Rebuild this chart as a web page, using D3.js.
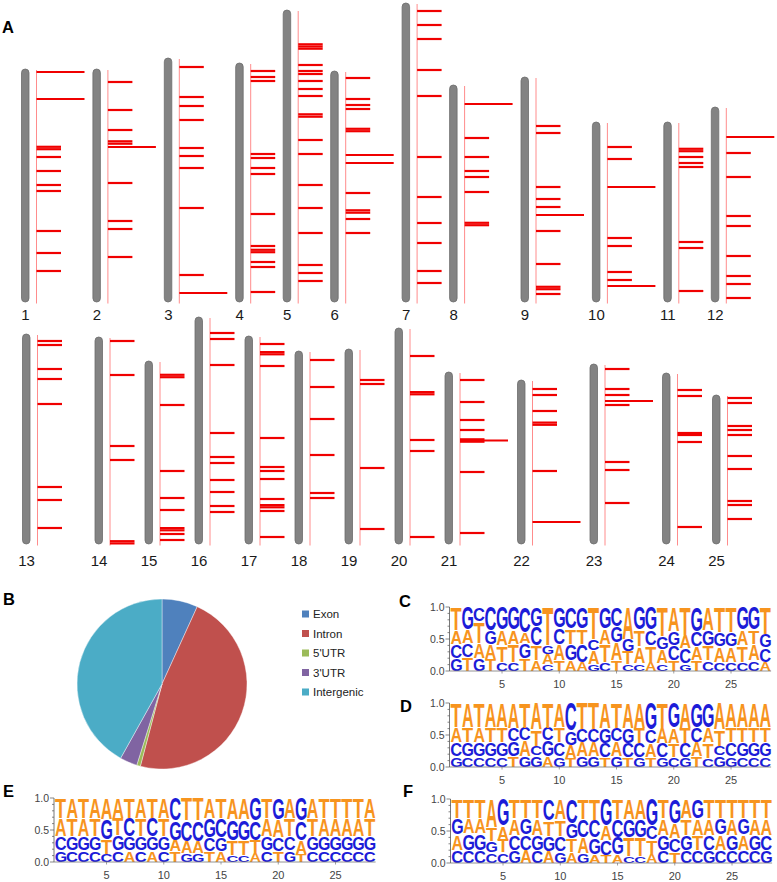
<!DOCTYPE html>
<html><head><meta charset="utf-8">
<script src="https://cdn.jsdelivr.net/npm/d3@7/dist/d3.min.js"></script>
<style>body{margin:0;background:#fff}svg{display:block}</style>
</head><body>
<svg id="fig" width="777" height="882"></svg>
<script>
// ---------------- DATA ----------------
// Panel A: chromosome lengths and marker positions (scaled units, from chromosome top)
const chrNamesRow1 = ["1","2","3","4","5","6","7","8","9","10","11","12"];
const chrLengthsRow1 = [233,233,244,239,292,231,299,217,225,180,180,195];
const chrMarkersRow1 = [
  [77.8,80.2,88,102,116,122,162,184,202],
  [13,41,61,72.3,74.7,114,152,160,188],
  [9,39,48,62,90,98,110,150,217],
  [8,14,18,91,95,105,111,151,183,186.8,189.2,199,204,229],
  [34.3,36.5,38.7,55,61,64,71,79,86,104.3,106.7,130,144,175,198,223,255,263,271],
  [7,28,34,38,57.8,60.2,122,139.3,141.7,148,162],
  [8,22,36,67,93,154,194,220,240,268,280],
  [53,72,86,92,107,137.8,140.2],
  [49,56,110,122,130,154,187,209.8,212.2,217],
  [25,37,116,124,150,158],
  [26.8,29.2,35,41,45,120,126,169],
  [46,70,109,119,149,169,177,191]
];
const chrLongMarkersRow1 = [[3,30],[78],[235],[],[],[84,92],[],[19],[138],[65,164],[],[30]];

const chrNamesRow2 = ["13","14","15","16","17","18","19","20","21","22","23","24","25"];
const chrLengthsRow2 = [210,207,183,227,208,193,195,216,172,164,180,171,149];
const chrMarkersRow2 = [
  [7,11,35,45,70,153,166,194],
  [4,38,109,123,204.2,206.4],
  [13.8,16.2,44,110,137,149,167.1,169.3,173,179],
  [16,22,48,116,140,146,163,175,189,195],
  [8,16.1,18.3,30,102,131,135,143,163,169.1,171.3,175,201],
  [9,36,68,104,142,147],
  [31,35,119,180],
  [28,64.1,66.3,112,123,209],
  [8,30,48,58,67.3,69.7,100,161],
  [9,15,31,42.6,44.8,91],
  [5,25,31,41,98,106,139],
  [17,23,60,62,69,154],
  [3,8,31,35,40,61,74,106,110,124]
];
const chrLongMarkersRow2 = [[],[],[],[],[],[],[],[],[68.5],[142],[37],[],[]];

// Panel B: genomic region distribution (%)
const regionNames = ["Exon","Intron","5'UTR","3'UTR","Intergenic"];
const regionPercents = [6.8,47.3,0.7,3.3,41.9];
const regionColors = ["#4f81bd","#c0504d","#9bbb59","#8064a2","#4bacc6"];

// Panels C-F: sequence logos (rows from top letter to bottom letter) and probabilities
const logoCLetters = ["TGCCGGCGTGCGTGCAGGTATGATTGGT","AATGAAACGCTTCAGGTCGGACGGGATG","CCAATTGTAAGCATATATACCATAATAC","GTGTCCTACTAAGCTCCACTGTCCCCCA"];
const logoCHeights = [
  [.36,.35,.22,.37,.36,.36,.40,.30,.60,.32,.34,.34,.50,.34,.30,.50,.36,.36,.46,.38,.44,.38,.36,.40,.40,.36,.36,.42],
  [.22,.22,.34,.21,.24,.22,.17,.30,.14,.26,.24,.24,.18,.24,.26,.20,.26,.24,.20,.22,.20,.24,.24,.22,.22,.24,.22,.22],
  [.22,.22,.24,.24,.26,.28,.24,.24,.16,.26,.26,.28,.22,.28,.28,.20,.26,.26,.22,.24,.24,.22,.24,.24,.24,.26,.26,.22],
  [.20,.21,.20,.18,.14,.14,.19,.16,.10,.16,.16,.14,.10,.14,.16,.10,.12,.14,.12,.16,.12,.16,.16,.14,.14,.14,.16,.14]
];
const logoDLetters = ["TATAAATATACTTATAAGTGAGGAAAAA","ATATTCCTCTGCCGCGTCAATCATTTTT","CGGGGGACGCAAACACCACTCATCCGGG","GCCCCTGGAGTGGTGTGTGCGTCGGCCC"];
const logoDHeights = [
  [.38,.38,.38,.38,.38,.38,.38,.38,.38,.38,.44,.40,.40,.38,.38,.38,.38,.42,.38,.40,.38,.38,.38,.38,.38,.38,.38,.38],
  [.24,.24,.24,.24,.24,.20,.20,.24,.20,.24,.22,.20,.20,.22,.20,.22,.24,.22,.24,.24,.24,.22,.24,.24,.24,.24,.24,.24],
  [.22,.22,.22,.22,.22,.22,.24,.14,.24,.22,.20,.22,.22,.22,.22,.22,.22,.22,.22,.22,.22,.22,.24,.14,.22,.22,.22,.22],
  [.16,.16,.16,.16,.16,.16,.16,.16,.16,.16,.14,.16,.16,.14,.16,.14,.14,.16,.14,.16,.14,.16,.14,.16,.16,.16,.16,.16]
];
const logoELetters = ["TATAAATATACTTATAAGTGAGATTTTA","ATATGTCTCTGCCGCGGCAATCTAAAAT","CGGGTGGGGGAAACGTTTGCCAGGGGGG","GCCCCCACACTGGTACCACTGTCCCCCC"];
const logoEHeights = [
  [.32,.32,.32,.32,.32,.32,.32,.32,.32,.32,.36,.32,.32,.32,.32,.32,.32,.36,.32,.34,.32,.36,.32,.32,.32,.32,.32,.32],
  [.28,.28,.28,.28,.30,.28,.30,.28,.30,.28,.30,.30,.30,.30,.30,.30,.30,.30,.28,.28,.28,.30,.28,.28,.28,.28,.28,.28],
  [.22,.22,.22,.22,.22,.24,.22,.22,.22,.22,.18,.18,.18,.22,.22,.22,.22,.20,.22,.22,.22,.22,.22,.22,.22,.22,.22,.22],
  [.18,.18,.18,.18,.12,.18,.18,.18,.18,.18,.16,.12,.12,.16,.16,.10,.10,.14,.18,.16,.18,.12,.18,.18,.18,.18,.18,.18]
];
const logoFLetters = ["TTTAGTTTCACTTGTAAGTGAGTTTTTT","GAATAAGATTGCCACGGCAATAAGAGAA","AGGGTCCGGCTAGCGTTTGCGTCAGAGC","CCCCCGACAGAGATACCACTCCGCCCCG"];
const logoFHeights = [
  [.30,.30,.30,.44,.42,.30,.30,.30,.34,.32,.38,.30,.30,.40,.30,.30,.30,.42,.30,.38,.30,.30,.30,.30,.30,.30,.30,.30],
  [.26,.24,.24,.22,.22,.26,.26,.26,.24,.26,.24,.26,.26,.22,.26,.26,.26,.22,.26,.24,.26,.26,.26,.26,.26,.26,.26,.26],
  [.24,.26,.26,.18,.20,.24,.24,.24,.24,.24,.22,.24,.24,.22,.26,.28,.28,.22,.24,.22,.24,.24,.24,.24,.24,.24,.24,.24],
  [.20,.20,.20,.16,.16,.20,.20,.20,.18,.18,.16,.14,.12,.12,.12,.10,.10,.14,.20,.16,.20,.20,.20,.20,.20,.20,.20,.20]
];
const logoXTicks = [5,10,15,20,25];
const logoYTicks = [0,0.5,1];

// ---------------- DRAW ----------------
const svg = d3.select("#fig");
const FONT = "'Liberation Sans', Arial, sans-serif";

function panelLabel(t, x, y) {
  svg.append("text").attr("x", x).attr("y", y).text(t)
    .attr("font-family", FONT).attr("font-weight", "bold").attr("font-size", 16.5).attr("fill", "#000");
}

// Panel A
function drawChromRow(names, lengths, markers, longs, opt) {
  const g = svg.append("g");
  const y = d3.scaleLinear().domain([0, 300]).range([0, 300]);
  let x = opt.startX;
  names.forEach((n, i) => {
    const h = y(lengths[i]);
    const top = opt.bottom - h;
    g.append("rect").attr("x", x + 0.5).attr("y", top).attr("width", 7.5).attr("height", h)
      .attr("rx", 3.75).attr("fill", "#838383").attr("stroke", "#6c6c6c").attr("stroke-width", 0.8);
    const lx = x + 15.5;
    g.append("line").attr("x1", lx).attr("x2", lx).attr("y1", top + 1).attr("y2", opt.bottom + 1.5)
      .attr("stroke", "#ff8c8c").attr("stroke-width", 1);
    markers[i].forEach(p => {
      g.append("line").attr("x1", lx).attr("x2", lx + 24.5).attr("y1", top + y(p)).attr("y2", top + y(p))
        .attr("stroke", "#f00000").attr("stroke-width", 2.2);
    });
    longs[i].forEach(p => {
      g.append("line").attr("x1", lx).attr("x2", lx + 48).attr("y1", top + y(p)).attr("y2", top + y(p))
        .attr("stroke", "#f00000").attr("stroke-width", 2.2);
    });
    g.append("text").attr("x", x + 4.5).attr("y", opt.labelY).attr("text-anchor", "middle").text(n)
      .attr("font-family", FONT).attr("font-size", 15).attr("fill", "#1a1a1a");
    const wide = longs[i].length > 0 || opt.wideExtra.includes(n);
    x += wide ? opt.wideW : opt.narrowW;
  });
}
drawChromRow(chrNamesRow1, chrLengthsRow1, chrMarkersRow1, chrLongMarkersRow1,
  {startX: 21, bottom: 302, labelY: 320, wideW: 71.4, narrowW: 47.5, wideExtra: []});
drawChromRow(chrNamesRow2, chrLengthsRow2, chrMarkersRow2, chrLongMarkersRow2,
  {startX: 22, bottom: 544, labelY: 566, wideW: 72.5, narrowW: 50, wideExtra: ["13"]});
panelLabel("A", 2, 33);

// Panel B
panelLabel("B", 3, 605);
const pie = d3.pie().sort(null).value(d => d)(regionPercents);
const arc = d3.arc().innerRadius(0).outerRadius(85);
const pg = svg.append("g").attr("transform", "translate(162,684)");
pg.selectAll("path").data(pie).join("path").attr("d", arc)
  .attr("fill", (d, i) => regionColors[i]).attr("stroke", "#fff").attr("stroke-width", 0.4);
const lg = svg.append("g").attr("transform", "translate(302,614)");
regionNames.forEach((n, i) => {
  lg.append("rect").attr("x", 0).attr("y", i * 19.5 - 3.5).attr("width", 7).attr("height", 7).attr("fill", regionColors[i]);
  lg.append("text").attr("x", 11).attr("y", i * 19.5 + 4).text(n)
    .attr("font-family", FONT).attr("font-size", 11.5).attr("fill", "#222");
});

// Logo glyph metrics
const cv = document.createElement("canvas").getContext("2d");
cv.font = "bold 100px 'Liberation Sans'";
const glyph = {};
"ACGT".split("").forEach(L => {
  const m = cv.measureText(L);
  glyph[L] = {l: m.actualBoundingBoxLeft, r: m.actualBoundingBoxRight, a: m.actualBoundingBoxAscent, d: m.actualBoundingBoxDescent};
});
const letterColor = {A: "#f7941e", T: "#f7941e", C: "#1c1cd8", G: "#1c1cd8"};

function drawLogo(letters, heights, opt) {
  const g = svg.append("g");
  const n = letters[0].length;
  const x = d3.scaleLinear().domain([0.5, n + 0.5]).range([opt.x0, opt.x0 + n * 11.45]);
  const y = d3.scaleLinear().domain([0, 1]).range([opt.bottom, opt.bottom - 64]);
  const colW = x(1.5) - x(0.5);
  for (let i = 0; i < n; i++) {
    const hs = heights.map(r => r[i]);
    const s = d3.sum(hs);
    let cum = 0;
    for (let r = letters.length - 1; r >= 0; r--) {
      const L = letters[r][i];
      const p = hs[r] / s;
      const yt = y(cum + p), yb = y(cum);
      cum += p;
      const gm = glyph[L];
      const w = colW * 0.95, h = Math.max(0.5, yb - yt - 0.6);
      const sx = w / (gm.l + gm.r), sy = h / (gm.a + gm.d);
      g.append("text").text(L).attr("x", gm.l).attr("y", gm.a)
        .attr("font-family", "'Liberation Sans'").attr("font-weight", "bold").attr("font-size", 100)
        .attr("fill", letterColor[L])
        .attr("transform", `translate(${x(i + 0.5) + colW * 0.025},${yt + 0.3}) scale(${sx},${sy})`);
    }
  }
  // axes
  const ax = opt.x0 - 1;
  g.append("line").attr("x1", ax).attr("x2", ax).attr("y1", y(1)).attr("y2", y(0)).attr("stroke", "#555").attr("stroke-width", 0.8);
  g.append("line").attr("x1", ax).attr("x2", x(n + 0.5)).attr("y1", y(0)).attr("y2", y(0)).attr("stroke", "#777").attr("stroke-width", 0.8);
  d3.range(0, 1.001, 0.1).forEach(v => {
    const major = logoYTicks.some(t => Math.abs(t - v) < 1e-6);
    g.append("line").attr("x1", ax - (major ? 4 : 2)).attr("x2", ax).attr("y1", y(v)).attr("y2", y(v))
      .attr("stroke", "#555").attr("stroke-width", 0.7);
  });
  logoYTicks.forEach(v => {
    g.append("text").attr("x", ax - 5).attr("y", y(v) + 3.5).attr("text-anchor", "end").text(v.toFixed(1))
      .attr("font-family", FONT).attr("font-size", 10.5).attr("fill", "#444");
  });
  logoXTicks.forEach(v => {
    g.append("line").attr("x1", x(v)).attr("x2", x(v)).attr("y1", y(0)).attr("y2", y(0) + 2.5).attr("stroke", "#777").attr("stroke-width", 0.7);
    g.append("text").attr("x", x(v)).attr("y", y(0) + 17).attr("text-anchor", "middle").text(v)
      .attr("font-family", FONT).attr("font-size", 11).attr("fill", "#444");
  });
}
panelLabel("C", 399, 607);
drawLogo(logoCLetters, logoCHeights, {x0: 450.5, bottom: 671});
panelLabel("D", 400, 712);
drawLogo(logoDLetters, logoDHeights, {x0: 450.5, bottom: 767});
panelLabel("E", 3, 797);
drawLogo(logoELetters, logoEHeights, {x0: 55, bottom: 862});
panelLabel("F", 403, 797);
drawLogo(logoFLetters, logoFHeights, {x0: 451.5, bottom: 863});
</script>
</body></html>
